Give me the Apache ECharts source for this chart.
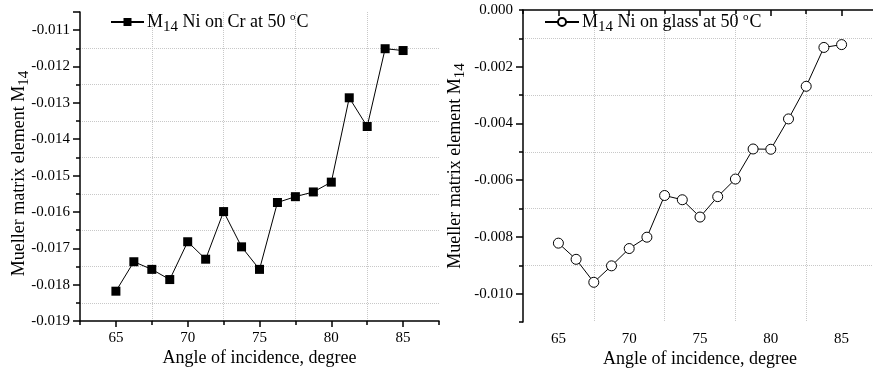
<!DOCTYPE html>
<html>
<head>
<meta charset="utf-8">
<script src="https://cdn.jsdelivr.net/npm/echarts@6/dist/echarts.min.js"></script>
<style>html,body{margin:0;padding:0;background:#fff}#c{width:873px;height:368px}</style>
</head>
<body>
<div id="c"></div>
<script>
var angles = [65, 66.25, 67.5, 68.75, 70, 71.25, 72.5, 73.75, 75, 76.25, 77.5, 78.75, 80, 81.25, 82.5, 83.75, 85];
var crValues = [-0.01818, -0.01737, -0.01758, -0.01786, -0.01682, -0.0173, -0.01599, -0.01696, -0.01758, -0.01574, -0.01558, -0.01545, -0.01518, -0.01286, -0.01365, -0.01151, -0.01156];
var glassValues = [-0.00822, -0.00879, -0.0096, -0.00902, -0.00841, -0.00801, -0.00654, -0.00669, -0.0073, -0.00658, -0.00596, -0.0049, -0.00491, -0.00384, -0.00269, -0.00132, -0.00122];
var seriesNames = ['Ni on Cr', 'Ni on glass'];
var legendTexts = ['{m|M}{s|14}{m| Ni on Cr at 50 }{d|o}{m|C}', '{m|M}{s|14}{m| Ni on glass at 50 }{d|o}{m|C}'];
var xTitle = 'Angle of incidence, degree';
var yTitle = '{m|Mueller matrix element M}{s|14}';

var FONT = '"Liberation Serif", "Times New Roman", serif';
var chart = echarts.init(document.getElementById('c'));
var rich = {
  m: {fontFamily: FONT, fontSize: 18, color: '#000', lineHeight: 26, verticalAlign: 'middle'},
  s: {fontFamily: FONT, fontSize: 15, color: '#000', lineHeight: 16, verticalAlign: 'bottom'},
  d: {fontFamily: FONT, fontSize: 11, color: '#000', lineHeight: 11, verticalAlign: 'top', padding: [3, 1, 0, 0]}
};
var AX = {color: '#000', width: 1.5};
var GRIDLINE = {color: '#c8c8c8', type: 'dotted', width: 1};
function isMult(v, m) { var r = Math.abs(v / m - Math.round(v / m)); return r < 1e-6; }

// axis A: line, ticks, grid lines (ticks counted from min = 62.5)
function xAxisLines(idx) {
  return {
    type: 'value', gridIndex: idx, position: 'bottom', min: 62.5, max: 87.5, interval: 5,
    axisLine: {show: true, lineStyle: AX},
    axisTick: {show: true, inside: false, length: 4, lineStyle: AX},
    minorTick: {show: true, splitNumber: 2, length: 6, lineStyle: AX},
    axisLabel: {show: false},
    splitLine: {show: true, showMinLine: false, showMaxLine: false, lineStyle: GRIDLINE},
    minorSplitLine: {show: false}
  };
}
// axis B: labels + title
function xAxisLabels(idx) {
  return {
    type: 'value', gridIndex: idx, position: 'bottom', min: 62.5, max: 87.5, interval: 2.5,
    name: xTitle, nameLocation: 'middle', nameGap: 28, nameMoveOverlap: false,
    nameTextStyle: {fontFamily: FONT, fontSize: 18, color: '#000'},
    axisLine: {show: false}, axisTick: {show: false}, splitLine: {show: false},
    axisLabel: {fontFamily: FONT, fontSize: 15, color: '#000', margin: 10,
      formatter: function (v) { return isMult(v, 5) ? String(Math.round(v)) : ''; }}
  };
}
function yAxisLines(idx, min, max, interval, tickLen, minorLen) {
  return {
    type: 'value', gridIndex: idx, position: 'left', min: min, max: max, interval: interval,
    axisLine: {show: true, lineStyle: AX},
    axisTick: {show: true, inside: false, length: tickLen, lineStyle: AX},
    minorTick: {show: true, splitNumber: 2, length: minorLen, lineStyle: AX},
    axisLabel: {show: false},
    splitLine: {show: false, showMinLine: false, showMaxLine: false, lineStyle: GRIDLINE},
    minorSplitLine: {show: false, lineStyle: GRIDLINE}
  };
}
function yAxisLabels(idx, min, max, interval, step, gap, pad) {
  return {
    type: 'value', gridIndex: idx, position: 'left', min: min, max: max, interval: interval,
    name: yTitle, nameLocation: 'middle', nameGap: gap, nameRotate: 90, nameMoveOverlap: false,
    nameTextStyle: {rich: rich, padding: pad},
    axisLine: {show: false}, axisTick: {show: false}, splitLine: {show: false},
    axisLabel: {fontFamily: FONT, fontSize: 15, color: '#000', margin: 10,
      formatter: function (v) { return isMult(v, step) ? v.toFixed(3) : ''; }}
  };
}
function pairs(xs, ys) { return xs.map(function (x, i) { return [x, ys[i]]; }); }

var yL = yAxisLines(0, -0.019, -0.0105, 0.001, 7, 4);
yL.minorSplitLine.show = true;
var yR = yAxisLines(1, -0.011, 0, 0.002, 4, 7);
yR.splitLine.show = true;

chart.setOption({
  animation: false,
  backgroundColor: '#fff',
  grid: [
    {left: 80, top: 12, width: 359, height: 309, containLabel: false, outerBoundsMode: 'none'},
    {left: 523, top: 10, width: 354, height: 312, containLabel: false, outerBoundsMode: 'none'}
  ],
  xAxis: [xAxisLines(0), xAxisLabels(0), xAxisLines(1), xAxisLabels(1)],
  yAxis: [
    yL,
    yAxisLabels(0, -0.019, -0.0105, 0.001, 0.001, 48, [0, 14, 0, 0]),
    yR,
    yAxisLabels(1, -0.011, 0, 0.001, 0.002, 55, [0, 0, 0, 0])
  ],
  legend: [
    {data: [seriesNames[0]], left: 110, top: 9, padding: 0, itemWidth: 33, itemHeight: 10, itemGap: 0,
      formatter: function () { return legendTexts[0]; }, textStyle: {rich: rich, padding: [0, 0, 0, -2]}},
    {data: [seriesNames[1]], left: 544, top: 9, padding: 0, itemWidth: 34, itemHeight: 10, itemGap: 0,
      formatter: function () { return legendTexts[1]; }, textStyle: {rich: rich, padding: [0, 0, 0, -2]}}
  ],
  series: [
    {name: seriesNames[0], type: 'line', xAxisIndex: 0, yAxisIndex: 0, data: pairs(angles, crValues),
      symbol: 'rect', symbolSize: 9, lineStyle: {color: '#000', width: 1},
      itemStyle: {color: '#000', borderColor: '#000', borderWidth: 0}},
    {name: seriesNames[1], type: 'line', xAxisIndex: 2, yAxisIndex: 2, data: pairs(angles, glassValues),
      symbol: 'circle', symbolSize: 10, lineStyle: {color: '#000', width: 1},
      itemStyle: {color: '#fff', borderColor: '#000', borderWidth: 1}}
  ]
});
</script>
</body>
</html>
